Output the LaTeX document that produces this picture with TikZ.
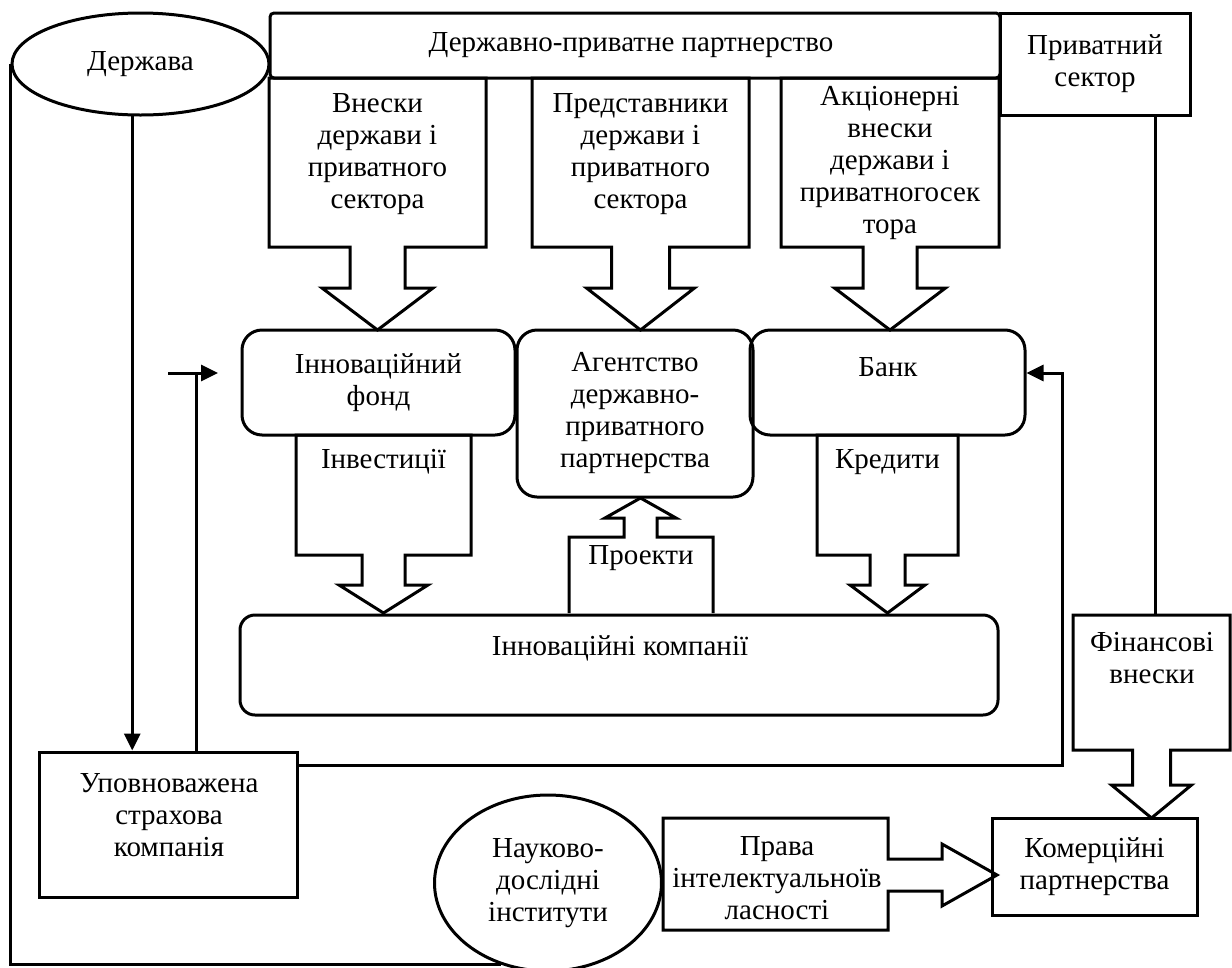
\documentclass[tikz,border=0pt]{standalone}
\usepackage{fontspec}
\setmainfont{Liberation Serif}
\usetikzlibrary{arrows.meta,shapes.geometric,calc}
% down-pointing callout: #1 left x, #2 right x, #3 top y, #4 box bottom y,
% #5 shaft half width, #6 head half width, #7 head base y, #8 tip y
\newcommand\CallDown[8]{%
  \draw[ln] (#1,#3) -- (#1,#4) -- ({(#1+#2)/2-#5},#4) -- ({(#1+#2)/2-#5},#7)
    -- ({(#1+#2)/2-#6},#7) -- ({(#1+#2)/2},#8) -- ({(#1+#2)/2+#6},#7)
    -- ({(#1+#2)/2+#5},#7) -- ({(#1+#2)/2+#5},#4) -- (#2,#4) -- (#2,#3) -- cycle;}
\begin{document}
\begin{tikzpicture}[x=1pt,y=-1pt,
  every node/.style={font=\fontsize{29}{32}\selectfont, align=center, inner sep=0pt},
  ln/.style={line width=3pt, line join=miter},
  boxed/.style={draw, line width=3pt, rectangle},
  rboxed/.style={boxed, rounded corners=20pt},
  oval/.style={draw, line width=3pt, shape=ellipse},
  arr/.style={ln, -{Triangle[length=17pt,width=16pt]}}]
\fill[white] (0,0) rectangle (1232,967);
\useasboundingbox (0,0) rectangle (1232,967);

% top row
\node[oval, minimum width=257pt, minimum height=102pt] (derzh) at (140.5,64) {Держава};
\node[boxed, rounded corners=4pt, minimum width=730pt, minimum height=65pt] (dpp) at (635,45.5) {};
\node (dpptxt) at (631,45) {Державно-приватне партнерство};
\node[boxed, minimum width=190pt, minimum height=102pt] (priv) at (1095,64) {Приватний\\сектор};

% callouts under the partnership box
\CallDown{269}{486}{78}{247}{27.5}{55.5}{288}{330}
\CallDown{532}{749}{78}{247}{29}{54}{288}{330}
\CallDown{781}{999}{78}{247}{27}{55.5}{288}{330}
\node (vneski) at (377.5,154) {Внески\\держави і\\приватного\\сектора};
\node (predst) at (640.5,154) {Представники\\держави і\\приватного\\сектора};
\node (akc) at (890,163) {Акціонерні\\внески\\держави і\\приватногосек\\тора};

% middle row
\node[rboxed, minimum width=273pt, minimum height=105pt] (fond) at (378.5,382.5) {Інноваційний\\фонд};
\node[rboxed, minimum width=236pt, minimum height=167pt] (agent) at (635,413.5) {Агентство\\державно-\\приватного\\партнерства};
\node[rboxed, minimum width=275pt, minimum height=105pt] (bank) at (887.5,382.5) {};
\node (banktxt) at (888,367) {Банк};

% callouts between middle row and companies
\CallDown{296}{471}{435}{555}{21.5}{44.5}{585}{613}
\CallDown{817}{958}{435}{555}{17.5}{37.5}{585}{613}
\node (invest) at (383.5,462) {Інвестиції};
\node (kred) at (887.5,462) {Кредити};
\draw[ln] (569,613) -- (569,537) -- (624,537) -- (624,518) -- (605,518) -- (640.5,498)
  -- (676,518) -- (657,518) -- (657,537) -- (713,537) -- (713,613);
\node (proekty) at (641,558) {Проекти};

% companies
\node[boxed, rounded corners=15pt, minimum width=758pt, minimum height=100pt] (komp) at (619,665) {};
\node (komptxt) at (620,648) {Інноваційні компанії};

% bottom row
\node[boxed, minimum width=258pt, minimum height=145pt] (upov) at (168,824.5) {};
\node (upovtxt) at (169,815) {Уповноважена\\страхова\\компанія};
\node[oval, minimum width=227pt, minimum height=176pt] (nauk) at (548,883) {Науково-\\дослідні\\інститути};
\draw[ln] (663,818) -- (888,818) -- (888,859) -- (942,859) -- (942,844) -- (997,875)
  -- (942,906) -- (942,891) -- (888,891) -- (888,930) -- (663,930) -- cycle;
\node (prava) at (777,878) {Права\\інтелектуальноїв\\ласності};
\node[boxed, minimum width=205pt, minimum height=97pt] (komerc) at (1094.5,866.5) {Комерційні\\партнерства};
\CallDown{1073}{1230}{615}{750}{19}{40}{785}{818}
\node (finans) at (1152,658) {Фінансові\\внески};

% connectors
\coordinate (finTop) at (1155,615);
\coordinate (fondStub) at (168,373);
\coordinate (fondArr) at (218,373);
\coordinate (upovRise) at (196,373);
\coordinate (bankLoopB) at (1062,765);
\coordinate (bankLoopT) at (1062,373);
\draw[arr] (derzh.261) -- (derzh.261 |- upov.north);
\draw[ln] (derzh.west) |- (nauk.240);
\draw[ln] (priv.south -| finTop) -- (finTop);
\draw[ln] (upovRise |- upov.north) -- (upovRise);
\draw[arr] (fondStub) -- (fondArr);
\draw[arr] (upov.east |- bankLoopB) -- (bankLoopB) -- (bankLoopT) -- (bankLoopT -| bank.east);
\end{tikzpicture}
\end{document}
